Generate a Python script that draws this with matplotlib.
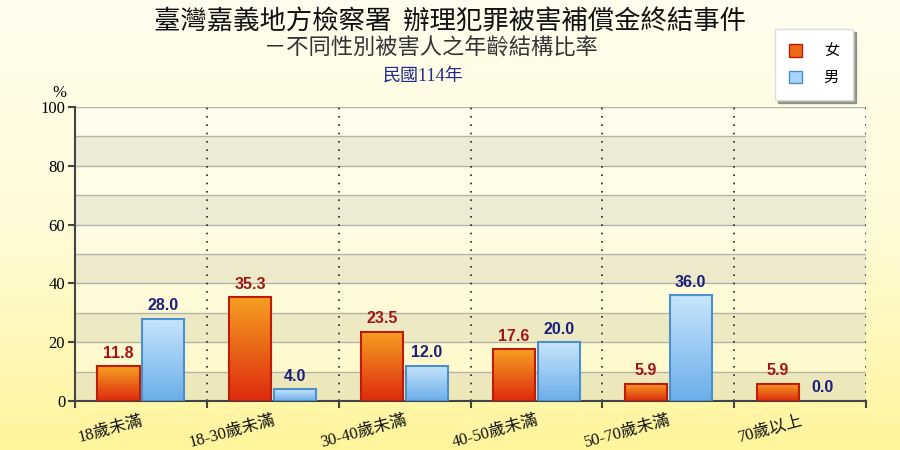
import numpy as np
import matplotlib.pyplot as plt
from matplotlib.patches import Patch
from matplotlib.colors import LinearSegmentedColormap

# data
categories = ["18歲未滿", "18-30歲未滿", "30-40歲未滿", "40-50歲未滿", "50-70歲未滿", "70歲以上"]
female = [11.8, 35.3, 23.5, 17.6, 5.9, 5.9]
male = [28.0, 4.0, 12.0, 20.0, 36.0, 0.0]
y_ticks = [0, 20, 40, 60, 80, 100]

title = "臺灣嘉義地方檢察署  辦理犯罪被害補償金終結事件"
subtitle = "－不同性別被害人之年齡結構比率"
year_label = "民國114年"

cjk = ["Noto Sans CJK TC", "DejaVu Sans"]
serif_cjk = ["Liberation Serif", "Noto Sans CJK TC"]
plt.rcParams["font.family"] = cjk


def gradient_bars(ax, bars, top_color, bottom_color):
    """Fill each bar with a vertical gradient clipped to the bar."""
    cmap = LinearSegmentedColormap.from_list("g", [bottom_color, top_color])
    grad = np.linspace(0, 1, 256).reshape(-1, 1)
    for b in bars:
        x0, y0 = b.get_x(), b.get_y()
        w, h = b.get_width(), b.get_height()
        if h <= 0:
            b.set_edgecolor("none")
            continue
        im = ax.imshow(grad, cmap=cmap, origin="lower", aspect="auto",
                       extent=[x0, x0 + w, y0, y0 + h], zorder=3)
        im.set_clip_path(b)


fig = plt.figure(figsize=(9, 4.5), dpi=100)

# figure background: cream at top, yellow at bottom
bg = fig.add_axes([0, 0, 1, 1], zorder=-10)
bg_cmap = LinearSegmentedColormap.from_list("bg", ["#FFF59C", "#FFFBD8", "#FFFEEE"])
bg.imshow(np.linspace(0, 1, 256).reshape(-1, 1), cmap=bg_cmap, origin="lower",
          aspect="auto", extent=[0, 1, 0, 1])
bg.set_axis_off()

ax = fig.add_axes([0.0833, 0.109, 0.879, 0.653])
ax.patch.set_alpha(0)

x = np.arange(len(categories))

# alternating horizontal bands and grid lines
for lo in range(0, 100, 10):
    if (lo // 10) % 2 == 0:
        ax.axhspan(lo, lo + 10, color="#D9D8CC", alpha=0.45, lw=0, zorder=0)
    else:
        ax.axhspan(lo, lo + 10, color="#FFFFFF", alpha=0.35, lw=0, zorder=0)
for y in range(10, 101, 10):
    ax.axhline(y, color="#B4B4AC", lw=1, zorder=1)

# dotted separators between categories
for b in np.arange(0.5, len(categories), 1.0):
    ax.axvline(b, color="#222222", lw=1.2, ls=(0, (1, 4)), zorder=1)

bw = 0.32
off = 0.17
fbars = ax.bar(x - off, female, bw, facecolor="none", edgecolor="#C01A0A", lw=1.5, zorder=4)
mbars = ax.bar(x + off, male, bw, facecolor="none", edgecolor="#4A8FCF", lw=1.5, zorder=4)
gradient_bars(ax, fbars, "#F6A021", "#DD2A0E")
gradient_bars(ax, mbars, "#C8E5FB", "#6AAEEA")
ax.set_xlim(-0.5, len(categories) - 0.5)
ax.set_ylim(0, 100)

for xi, v in zip(x, female):
    ax.annotate(f"{v:.1f}", (xi - off, v), xytext=(0, 4), textcoords="offset points",
                ha="center", va="bottom", fontsize=11.5, fontweight="bold",
                color="#A31515", family="Liberation Sans", zorder=5)
for xi, v in zip(x, male):
    ax.annotate(f"{v:.1f}", (xi + off, v), xytext=(0, 4), textcoords="offset points",
                ha="center", va="bottom", fontsize=11.5, fontweight="bold",
                color="#1B1F7A", family="Liberation Sans", zorder=5)

# axes styling
for s in ["top", "right"]:
    ax.spines[s].set_visible(False)
ax.spines["left"].set_color("#444444")
ax.spines["bottom"].set_color("#444444")
ax.spines["left"].set_linewidth(1.5)
ax.spines["bottom"].set_linewidth(1.5)

ax.set_yticks(y_ticks)
ax.set_yticklabels([str(t) for t in y_ticks], family="Liberation Serif", fontsize=12)
ax.tick_params(axis="y", length=5, width=1.5, color="#444444", pad=2)

ax.set_xticks(np.arange(-0.5, len(categories), 1.0))
ax.set_xticklabels([])
ax.tick_params(axis="x", length=5, width=1.5, color="#444444")
for xi, lab in zip(x, categories):
    ax.text(xi, -4, lab, rotation=15, rotation_mode="anchor", ha="right", va="top",
            fontsize=12, family=serif_cjk, color="#111111")

ax.text(-0.62, 102, "%", ha="center", va="bottom", fontsize=12, family="Liberation Serif")

# titles
fig.text(0.5, 0.953, title, ha="center", va="center", fontsize=19, color="#111111")
fig.text(0.479, 0.893, subtitle, ha="center", va="center", fontsize=16,
         color="#333333", fontweight="light")
fig.text(0.47, 0.831, year_label, ha="center", va="center", fontsize=13,
         color="#1F2A8A", family=serif_cjk)

# legend
handles = [Patch(facecolor="#EE6A15", edgecolor="#C01A0A", label="女"),
           Patch(facecolor="#A9D4F7", edgecolor="#4A8FCF", label="男")]
leg = fig.legend(handles=handles, loc="upper left", bbox_to_anchor=(0.861, 0.935),
                 frameon=True, fancybox=False, shadow=True, fontsize=11,
                 handlelength=0.9, handleheight=0.9, handletextpad=1.4,
                 borderpad=0.9, labelspacing=0.6, borderaxespad=0)
leg.get_frame().set_facecolor("white")
leg.get_frame().set_edgecolor("#DDDDDD")

fig.savefig("out.png", dpi=100)
